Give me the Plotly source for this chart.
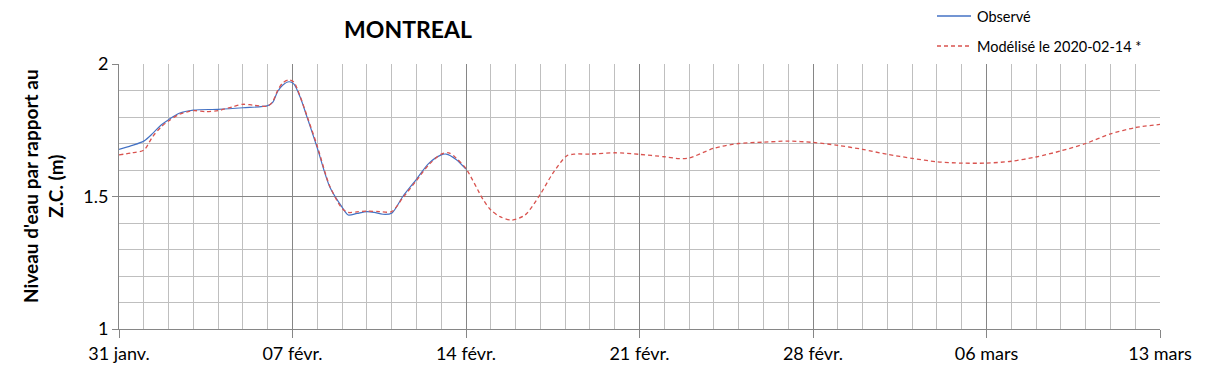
import plotly.graph_objects as go
import pandas as pd

start = pd.Timestamp("2020-01-31")

# Observed series (day offset from 31 Jan, level in m)
obs_days = [0, 0.5, 1, 1.36, 1.7, 2, 2.43, 3, 4, 5, 6, 6.2, 6.4, 6.6, 6.86, 7.05, 7.3, 7.6, 8, 8.5, 9, 9.25, 9.6, 10, 10.3, 10.65, 11, 11.45, 12, 12.5, 13, 13.2, 13.6, 14]
obs_vals = [1.678, 1.692, 1.709, 1.738, 1.77, 1.79, 1.814, 1.826, 1.829, 1.835, 1.843, 1.855, 1.896, 1.92, 1.933, 1.925, 1.877, 1.796, 1.683, 1.537, 1.46, 1.43, 1.436, 1.443, 1.44, 1.433, 1.437, 1.50, 1.565, 1.625, 1.657, 1.66, 1.64, 1.603]

# Modelled series
mod_days = [0, 0.54, 1, 1.36, 1.7, 2, 2.43, 3, 3.5, 4, 4.6, 5, 5.4, 6, 6.2, 6.4, 6.6, 6.86, 7.05, 7.3, 7.6, 8, 8.5, 9, 9.25, 9.6, 10, 10.5, 11, 11.45, 12, 12.5, 13, 13.3, 13.6, 14,
            14.7, 15, 15.37, 15.84, 16.38, 16.98, 17.5, 18.06, 18.4, 19, 20, 21, 22, 22.6, 23, 24, 25, 26, 27, 28, 29, 30, 31, 32, 33, 34, 35, 36, 37, 38, 39, 40, 41, 42]
mod_vals = [1.657, 1.665, 1.675, 1.726, 1.763, 1.785, 1.81, 1.824, 1.82, 1.824, 1.839, 1.848, 1.845, 1.841, 1.858, 1.9, 1.928, 1.94, 1.932, 1.88, 1.80, 1.69, 1.54, 1.455, 1.44, 1.442, 1.445, 1.443, 1.443, 1.495, 1.56, 1.62, 1.66, 1.665, 1.645, 1.605,
            1.487, 1.449, 1.424, 1.411, 1.43, 1.506, 1.587, 1.653, 1.66, 1.66, 1.665, 1.659, 1.65, 1.643, 1.645, 1.682, 1.70, 1.705, 1.709, 1.704, 1.693, 1.678, 1.659, 1.644, 1.631, 1.626, 1.626, 1.633, 1.649, 1.672, 1.70, 1.736, 1.76, 1.772]

tick_days = [0, 7, 14, 21, 28, 35, 42]
tick_text = ["31 janv.", "07 févr.", "14 févr.", "21 févr.", "28 févr.", "06 mars", "13 mars"]

series_names = ["Observé", "Modélisé le 2020-02-14 *"]
series_colors = ["#4472C4", "#D9534F"]

obs_x = [start + pd.Timedelta(hours=d * 24) for d in obs_days]
mod_x = [start + pd.Timedelta(hours=d * 24) for d in mod_days]
tick_x = [start + pd.Timedelta(days=d) for d in tick_days]

FONT = "Lato, 'Open Sans', sans-serif"
W, H = 1209, 378
L, R, T, B = 119, 49, 64, 49
DASH = "4px,3px"

fig = go.Figure()
fig.add_trace(go.Scatter(x=obs_x, y=obs_vals, mode="lines", name=series_names[0],
                         line=dict(color=series_colors[0], width=1.2, shape="spline", smoothing=0.8)))
fig.add_trace(go.Scatter(x=mod_x, y=mod_vals, mode="lines", name=series_names[1],
                         line=dict(color=series_colors[1], width=1.3, dash=DASH, shape="spline", smoothing=0.8)))

# manual legend (paper coordinates converted from pixels)
def px_x(p):
    return (p - L) / (W - L - R)

def px_y(p):
    return 1 - (p - T) / (H - T - B)

legend_rows = [16, 46]
dashes = ["solid", DASH]
for name, color, row, dsh in zip(series_names, series_colors, legend_rows, dashes):
    fig.add_shape(type="line", xref="paper", yref="paper",
                  x0=px_x(937), x1=px_x(971), y0=px_y(row), y1=px_y(row),
                  line=dict(color=color, width=1.3, dash=dsh))
    fig.add_annotation(xref="paper", yref="paper", x=px_x(975), y=px_y(row),
                       text=name, showarrow=False, xanchor="left", yanchor="middle",
                       font=dict(size=14.5, family=FONT, color="#000000"))

# y-axis title as rotated annotation
fig.add_annotation(xref="paper", yref="paper", x=px_x(43), y=px_y(186),
                   text="<b>Niveau d'eau par rapport au<br>Z.C. (m)</b>", textangle=-90,
                   showarrow=False, xanchor="center", yanchor="middle",
                   font=dict(size=19, family=FONT, color="#000000"))

fig.update_layout(
    width=W, height=H,
    margin=dict(l=L, r=R, t=T, b=B),
    paper_bgcolor="white", plot_bgcolor="white",
    font=dict(family=FONT, color="#000000", size=18),
    title=dict(text="<b>MONTREAL</b>", x=408 / W, xanchor="center", y=1 - 30 / H, yanchor="middle",
               font=dict(size=23, family=FONT, color="#000000")),
    showlegend=False,
)

fig.update_xaxes(
    type="date",
    range=[start, start + pd.Timedelta(days=42)],
    tickvals=tick_x, ticktext=tick_text,
    ticks="outside", ticklen=8, tickcolor="#868686", tickwidth=1,
    showgrid=True, gridcolor="#868686", gridwidth=1,
    showline=True, linecolor="#868686", linewidth=1,
    zeroline=False,
    tickfont=dict(size=18, family=FONT),
    minor=dict(dtick=86400000, showgrid=True, gridcolor="#BFBFBF", gridwidth=1, ticks=""),
)
fig.update_yaxes(
    range=[1, 2],
    tickvals=[1, 1.5, 2], ticktext=["1", "1.5", "2"],
    ticks="outside", ticklen=6, tickcolor="#868686", tickwidth=1,
    showgrid=True, gridcolor="#868686", gridwidth=1,
    showline=True, linecolor="#868686", linewidth=1,
    zeroline=False,
    tickfont=dict(size=18, family=FONT),
    minor=dict(dtick=0.1, showgrid=True, gridcolor="#BFBFBF", gridwidth=1, ticks=""),
)

fig.write_html("out.html")
